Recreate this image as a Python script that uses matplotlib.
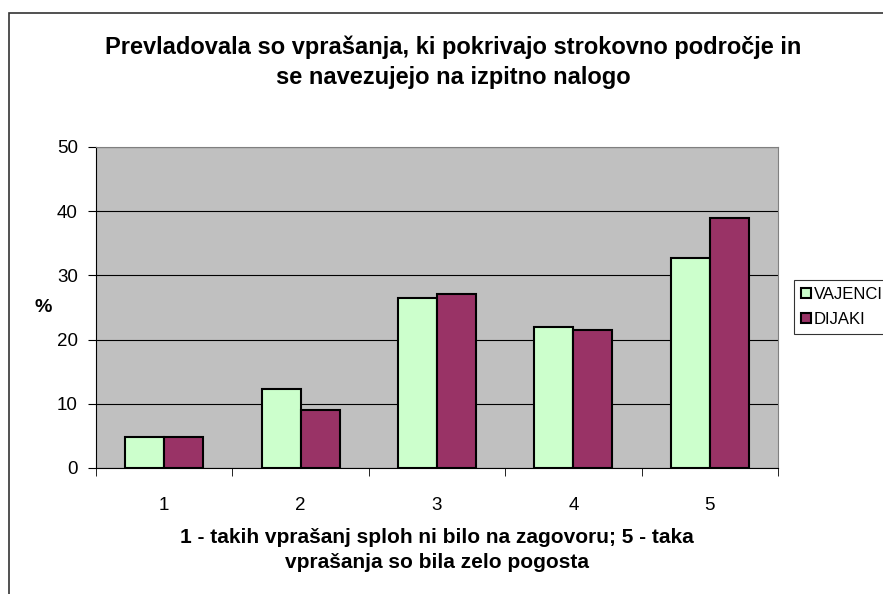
import matplotlib
matplotlib.use("Agg")
import matplotlib.pyplot as plt
import numpy as np
from matplotlib.patches import Rectangle

plt.rcParams['font.family'] = ['Liberation Sans', 'DejaVu Sans']

categories = ['1', '2', '3', '4', '5']
vajenci = [4.8, 12.3, 26.5, 22.0, 32.7]
dijaki = [4.8, 9.0, 27.1, 21.5, 38.9]
series_names = ['VAJENCI', 'DIJAKI']

title = 'Prevladovala so vprašanja, ki pokrivajo strokovno področje in\nse navezujejo na izpitno nalogo'
xlabel = '1 - takih vprašanj sploh ni bilo na zagovoru; 5 - taka\nvprašanja so bila zelo pogosta'

fig = plt.figure(figsize=(8.83, 5.94), dpi=100)
# chart border (only top and left visible)
fig.add_artist(Rectangle((9 / 883, -0.1), 1.2, (594 - 13) / 594 + 0.1,
                         transform=fig.transFigure, fill=False,
                         edgecolor='#333333', linewidth=1.2))

ax = fig.add_axes([96 / 883, 1 - 468 / 594, (778 - 96) / 883, (468 - 147) / 594])
ax.set_facecolor('#C0C0C0')

x = np.arange(len(categories))
w = 1 / 3.5
ax.bar(x - w / 2, vajenci, w, color='#CCFFCC', edgecolor='black', linewidth=1.5,
       label=series_names[0], zorder=3)
ax.bar(x + w / 2, dijaki, w, color='#993366', edgecolor='black', linewidth=1.5,
       label=series_names[1], zorder=3)

ax.set_xlim(-0.5, len(categories) - 0.5)
ax.set_ylim(0, 50)
ax.set_yticks(range(0, 51, 10))
ax.yaxis.grid(True, color='black', linewidth=0.8, zorder=1)
ax.set_xticks(x)
ax.set_xticklabels(categories, fontsize=13.5)
ax.set_xticks(np.arange(-0.5, len(categories), 1), minor=True)
ax.tick_params(axis='x', which='major', length=0, pad=21)
ax.tick_params(axis='x', which='minor', length=6, direction='out', color='black')
ax.tick_params(axis='y', length=6, direction='out', labelsize=13.5, pad=7)

for s in ['top', 'right']:
    ax.spines[s].set_color('#808080')
for s in ['left', 'bottom']:
    ax.spines[s].set_color('black')

ax.set_ylabel('%', fontsize=14, fontweight='bold', rotation=0, labelpad=10, va='center')
ax.set_xlabel(xlabel, fontsize=15, fontweight='bold', labelpad=10, linespacing=1.4)

fig.text(0.5 * (96 + 778) / 883 + 0.018, 1 - 62 / 594, title, ha='center', va='center',
         fontsize=17, fontweight='bold', linespacing=1.38)

leg = ax.legend(loc='center left', bbox_to_anchor=(794 / 883, 1 - 307 / 594),
                bbox_transform=fig.transFigure, frameon=True, fancybox=False,
                edgecolor='black', fontsize=12, handlelength=0.6, handleheight=0.6,
                handletextpad=0.2, borderpad=0.4, labelspacing=0.6, borderaxespad=0)
leg.get_frame().set_linewidth(0.8)

fig.savefig('out.png', dpi=100)
